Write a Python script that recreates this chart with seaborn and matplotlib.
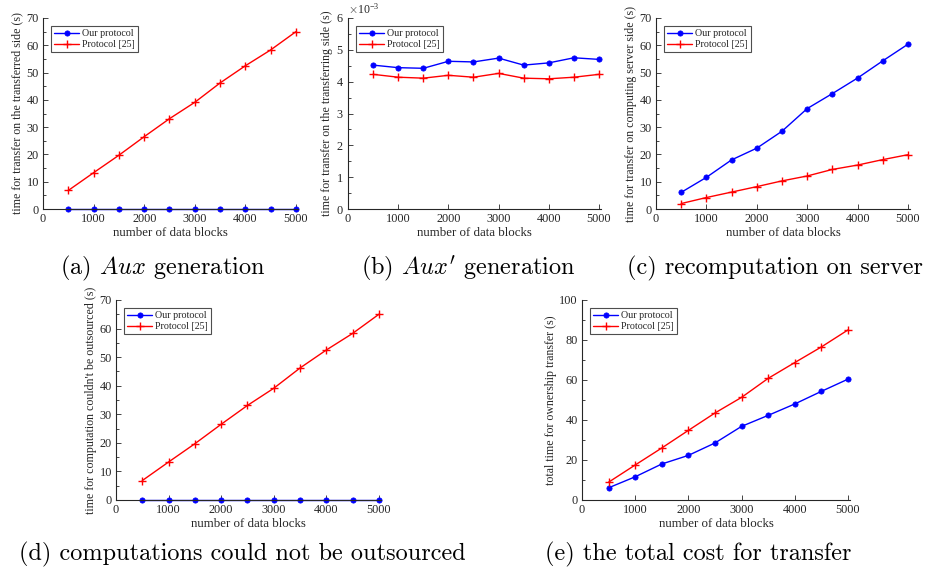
import numpy as np
import pandas as pd
import matplotlib
matplotlib.use("Agg")
import matplotlib.pyplot as plt
from matplotlib.ticker import MultipleLocator, ScalarFormatter
import seaborn as sns

blocks = [500, 1000, 1500, 2000, 2500, 3000, 3500, 4000, 4500, 5000]
series_names = ["Our protocol", "Protocol [25]"]

a_ours = [0.005, 0.005, 0.005, 0.005, 0.005, 0.005, 0.005, 0.005, 0.005, 0.005]
a_p25 = [6.8, 13.3, 19.7, 26.5, 33.1, 39.1, 46.2, 52.5, 58.3, 65.0]

b_ours = [0.00452, 0.00444, 0.00442, 0.00464, 0.00462, 0.00474, 0.00452, 0.00459, 0.00475, 0.00470]
b_p25 = [0.00423, 0.00414, 0.00411, 0.00420, 0.00414, 0.00426, 0.00411, 0.00409, 0.00414, 0.00423]

c_ours = [6.1, 11.6, 18.0, 22.3, 28.5, 36.8, 42.3, 48.0, 54.3, 60.4]
c_p25 = [2.0, 4.2, 6.2, 8.2, 10.3, 12.1, 14.5, 16.1, 18.1, 19.9]

d_ours = [0.005, 0.005, 0.005, 0.005, 0.005, 0.005, 0.005, 0.005, 0.005, 0.005]
d_p25 = [6.8, 13.3, 19.7, 26.5, 33.1, 39.1, 46.2, 52.5, 58.3, 65.0]

e_ours = [6.1, 11.6, 18.0, 22.3, 28.5, 36.8, 42.3, 48.0, 54.3, 60.4]
e_p25 = [8.9, 17.5, 26.0, 34.8, 43.5, 51.3, 60.8, 68.7, 76.5, 85.0]

ylabels = [
    "time for transfer on the transferred side (s)",
    "time for transfer on the transferring side (s)",
    "time for transfer on computing server side (s)",
    "time for computation couldn't be outsourced (s)",
    "total time for ownership transfer (s)",
]
captions = [
    "(a) $Aux$ generation",
    "(b) $Aux'$ generation",
    "(c) recomputation on server",
    "(d) computations could not be outsourced",
    "(e) the total cost for transfer",
]
xlabel = "number of data blocks"

sns.set_theme(style="ticks")
plt.rcParams["font.family"] = ["Liberation Serif", "DejaVu Serif"]
plt.rcParams["mathtext.fontset"] = "cm"
plt.rcParams["axes.unicode_minus"] = True

W, H = 927, 579
fig = plt.figure(figsize=(W / 100, H / 100), dpi=100)

def rect(l, r, top, bot):
    return [l / W, 1 - bot / H, (r - l) / W, (bot - top) / H]

panels = [
    (a_ours, a_p25, rect(43, 298, 18, 209), (0, 70), 10, 5),
    (b_ours, b_p25, rect(348, 601, 18, 209), (0, 0.006), 0.001, 0.0005),
    (c_ours, c_p25, rect(656, 910, 18, 209), (0, 70), 10, 5),
    (d_ours, d_p25, rect(116, 381, 300, 500), (0, 70), 10, 5),
    (e_ours, e_p25, rect(582, 850, 300, 500), (0, 100), 20, 10),
]

txtc = "#262626"
for i, (ours, p25, r, ylim, major, minor) in enumerate(panels):
    ax = fig.add_axes(r)
    sns.lineplot(x=blocks, y=ours, color="#0000ff", marker="o", markersize=3.8,
                 markeredgewidth=0.5, markeredgecolor="#0000ff", linewidth=1.0,
                 label=series_names[0], ax=ax, clip_on=False)
    sns.lineplot(x=blocks, y=p25, color="#ff0000", marker="+", markersize=5.5,
                 markeredgewidth=1.0, markeredgecolor="#ff0000", linewidth=1.0,
                 label=series_names[1], ax=ax, clip_on=False)
    ax.set_xlim(0, 5040)
    ax.set_ylim(*ylim)
    ax.set_xticks([0, 1000, 2000, 3000, 4000, 5000])
    ax.yaxis.set_major_locator(MultipleLocator(major))
    ax.yaxis.set_minor_locator(MultipleLocator(minor))
    for s in ["top", "right"]:
        ax.spines[s].set_visible(False)
    for s in ["left", "bottom"]:
        ax.spines[s].set_color(txtc)
        ax.spines[s].set_linewidth(0.8)
    ax.tick_params(axis="both", which="both", direction="in", colors=txtc,
                   labelsize=8.8, width=0.6, left=True, bottom=True)
    ax.tick_params(which="major", length=3.5, pad=3)
    ax.tick_params(which="minor", length=2)
    ax.set_xlabel(xlabel, fontsize=9.3, color=txtc, labelpad=1)
    ax.set_ylabel(ylabels[i], fontsize=8.6, color=txtc, labelpad=2)
    if i == 1:
        fmt = ScalarFormatter(useMathText=True)
        fmt.set_powerlimits((-3, -3))
        ax.yaxis.set_major_formatter(fmt)
        ax.yaxis.get_offset_text().set_fontsize(8.5)
        ax.yaxis.get_offset_text().set_color(txtc)
    leg = ax.legend(loc="upper left", fontsize=7.2, frameon=True, fancybox=False,
                    edgecolor="#222222", borderpad=0.3, handlelength=2.5,
                    labelspacing=0.2, borderaxespad=0.8, handletextpad=0.3)
    leg.get_frame().set_linewidth(0.8)

cap_pos = [(163, 268), (468, 268), (775, 268), (242, 554), (698, 554)]
for (cx, cy), cap in zip(cap_pos, captions):
    fig.text(cx / W, 1 - cy / H, cap, ha="center", va="center", fontsize=17.5,
             family=["cmr10", "DejaVu Serif"], color="black")

fig.savefig("out.png", dpi=100)
